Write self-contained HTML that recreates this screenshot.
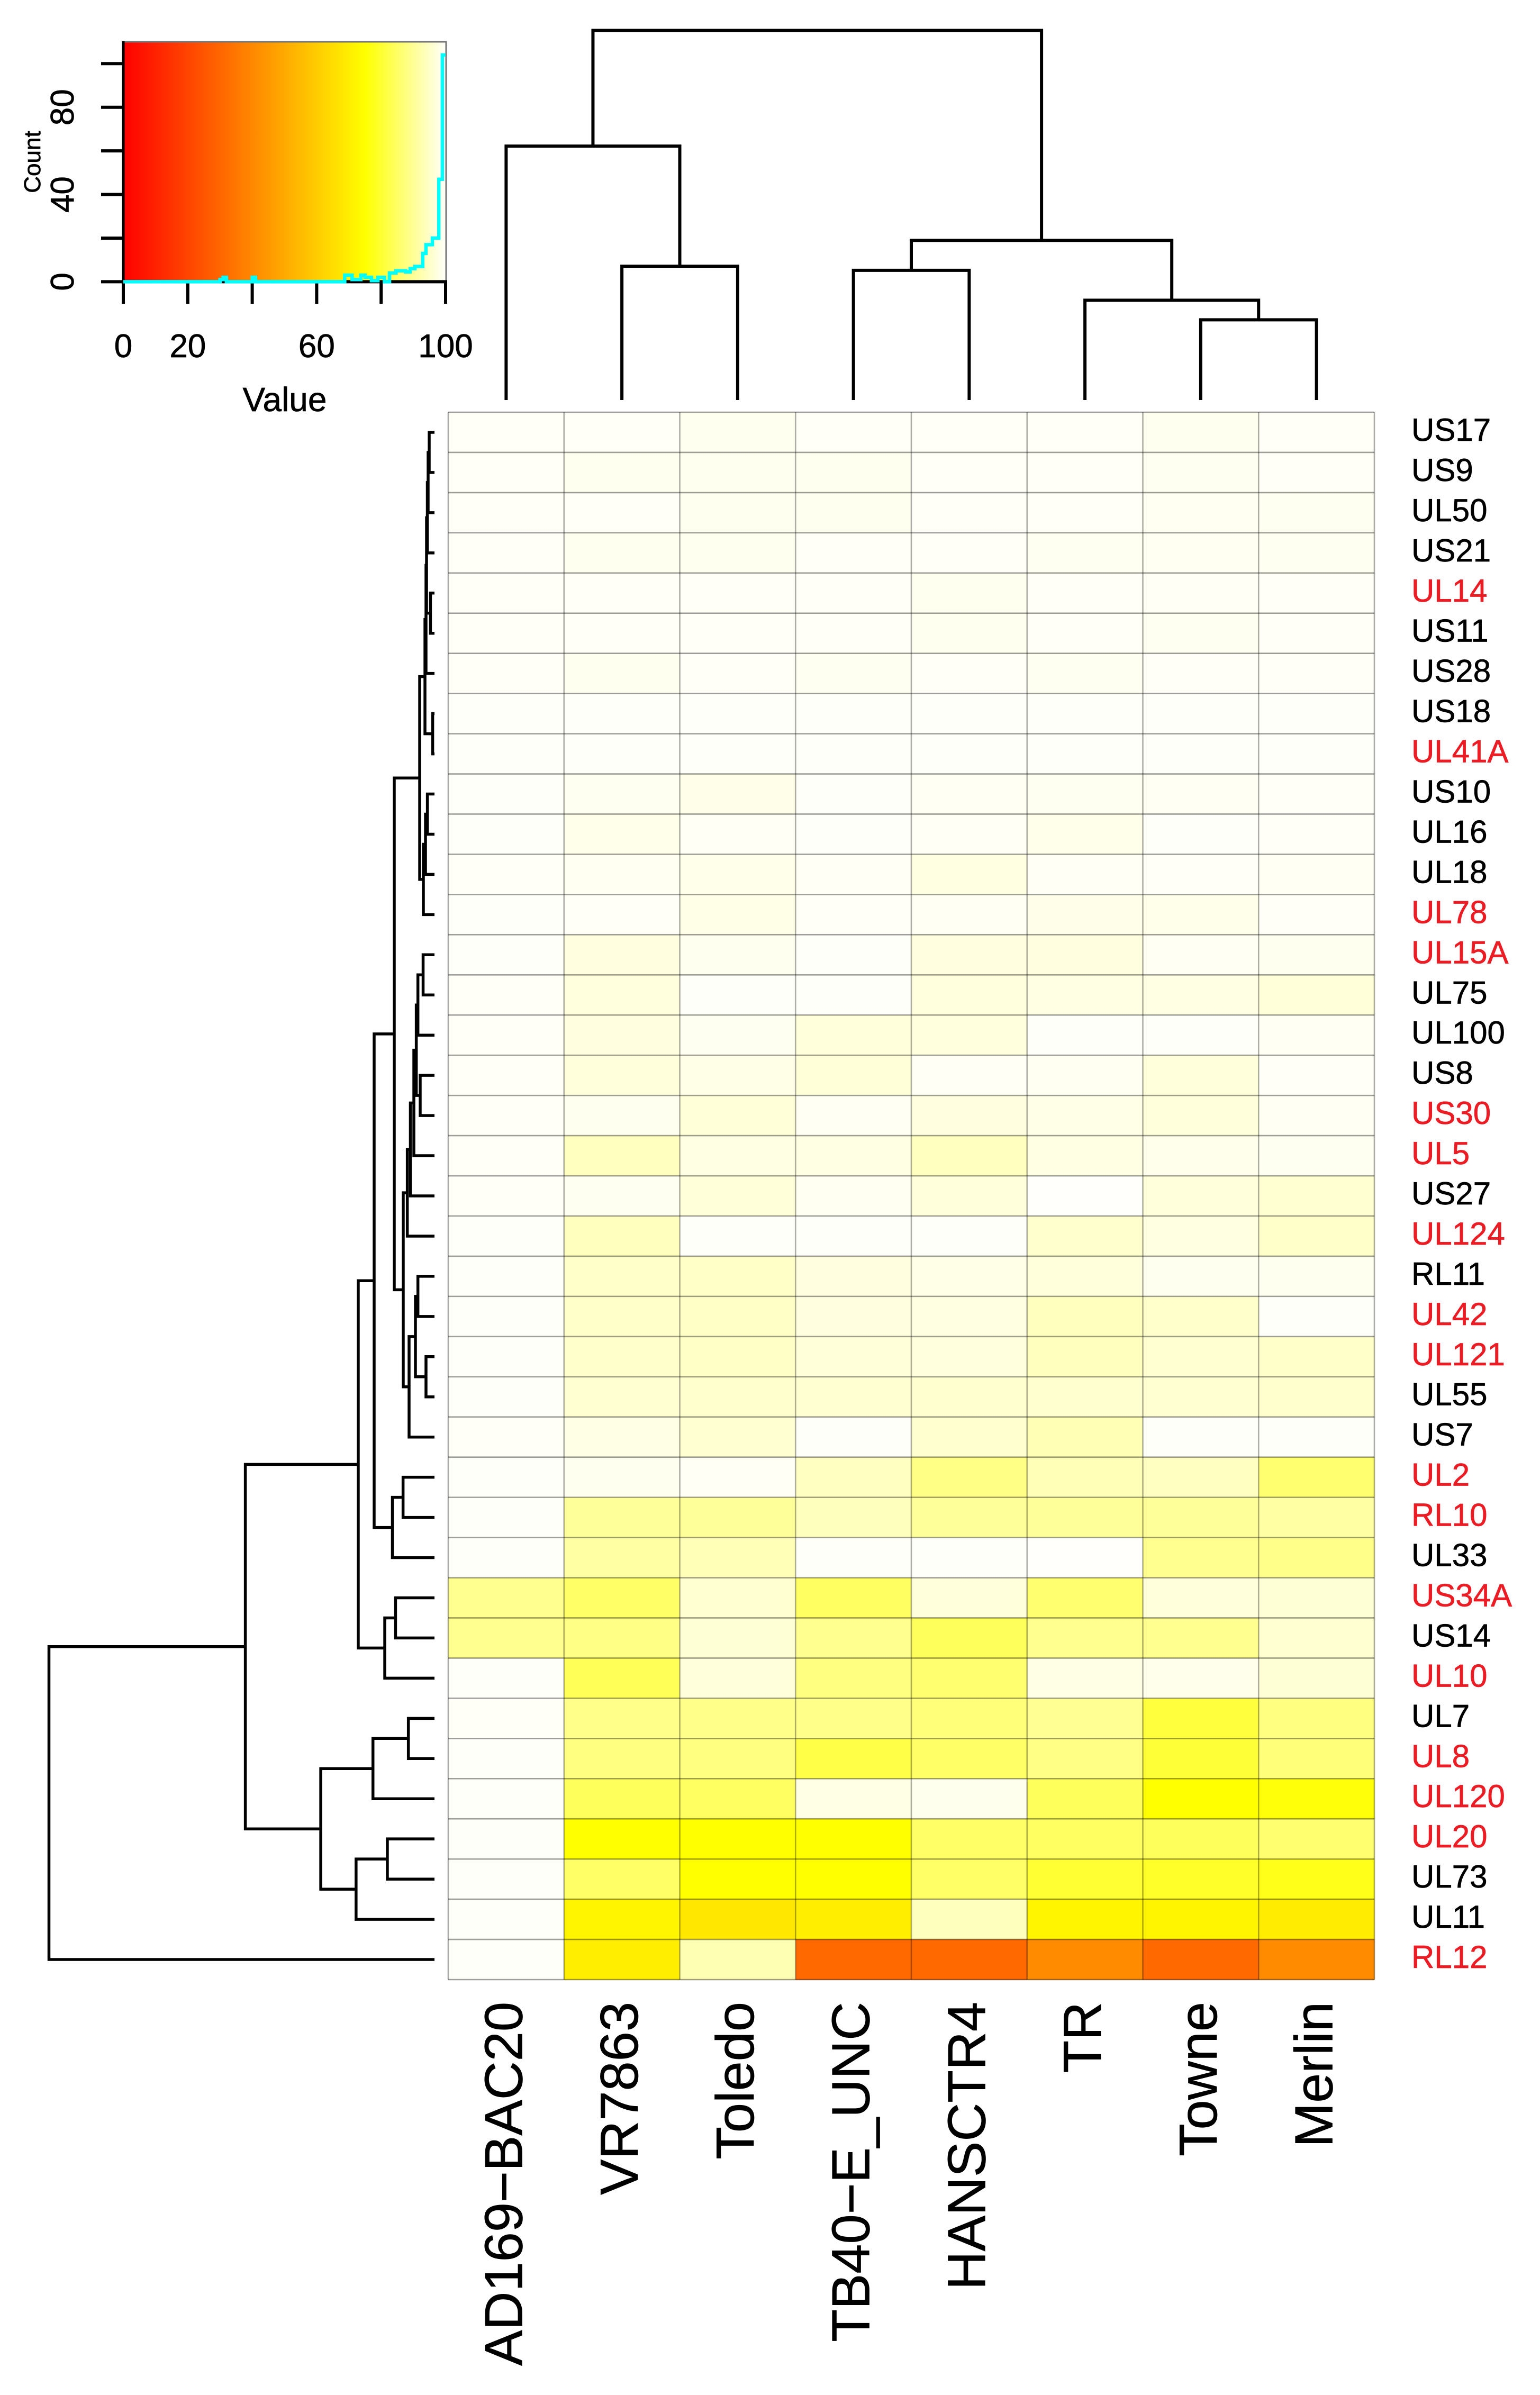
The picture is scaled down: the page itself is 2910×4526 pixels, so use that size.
<!DOCTYPE html>
<html lang="en">
<head>
<meta charset="utf-8">
<title>Heatmap with dendrograms</title>
<style>
html,body{margin:0;padding:0;background:#fff;width:2910px;height:4526px;overflow:hidden}
svg{display:block}
text{font-family:"Liberation Sans",Arial,sans-serif;fill:#000;stroke:#000;stroke-width:0.7px}
</style>
</head>
<body>
<svg id="chart" xmlns="http://www.w3.org/2000/svg" width="2910" height="4526" viewBox="0 0 2910 4526">
<defs>
<linearGradient id="keyGradient" x1="0" x2="1" y1="0" y2="0">
<stop offset="0" stop-color="#ff0000"/>
<stop offset="0.75" stop-color="#ffff00"/>
<stop offset="1" stop-color="#fffffa"/>
</linearGradient>
</defs>
</svg>
<script>
const colLabels = ["AD169−BAC20","VR7863","Toledo","TB40−E_UNC","HANSCTR4","TR","Towne","Merlin"];
const rowLabels = ["US17","US9","UL50","US21","UL14","US11","US28","US18","UL41A","US10","UL16","UL18","UL78","UL15A","UL75","UL100","US8","US30","UL5","US27","UL124","RL11","UL42","UL121","UL55","US7","UL2","RL10","UL33","US34A","US14","UL10","UL7","UL8","UL120","UL20","UL73","UL11","RL12"];
const redRowLabels = ["UL14","UL41A","UL78","UL15A","US30","UL5","UL124","UL42","UL121","UL2","RL10","US34A","UL10","UL8","UL120","UL20","RL12"];
const cellValues = [
[99.2,99.2,98.5,99.2,99.2,99.2,98.5,99.2],
[99.2,98.5,98.5,98.5,99.3,99.3,98.6,99.2],
[99.3,99.2,98.5,98.5,99.3,99.2,98.7,98.6],
[99.3,98.5,98.5,99.2,99.3,98.6,98.7,98.6],
[99.3,99.2,99.3,99.2,98.5,99.2,99.0,99.2],
[99.3,99.2,99.2,99.2,98.5,99.2,98.6,99.2],
[99.3,98.5,99.3,98.6,99.2,98.6,99.2,99.2],
[99.4,99.4,99.4,99.4,99.4,99.4,99.4,99.4],
[99.4,99.4,99.4,99.4,99.4,99.4,99.4,99.4],
[99.4,98.6,97.8,99.4,98.9,98.6,98.9,99.3],
[99.4,97.9,99.0,99.4,99.0,97.9,99.4,99.3],
[99.3,98.7,97.9,99.0,97.2,99.0,99.2,98.9],
[99.4,99.2,97.6,99.3,98.8,97.8,97.9,99.2],
[99.4,97.0,98.5,99.5,97.0,97.0,98.8,98.4],
[99.3,96.8,99.5,99.5,96.8,97.4,97.4,96.3],
[99.3,97.0,98.6,96.6,96.8,99.4,99.4,98.8],
[99.2,96.5,97.6,96.2,99.0,98.7,96.5,99.2],
[99.2,98.4,96.2,98.8,97.0,97.6,96.5,98.8],
[99.3,93.8,97.4,97.4,93.8,97.4,98.0,98.6],
[99.3,98.6,96.4,98.7,96.5,99.6,96.6,95.6],
[99.4,93.6,99.5,99.5,99.5,95.2,97.2,94.8],
[99.4,94.8,94.6,97.0,97.6,96.6,98.4,98.4],
[99.4,94.8,94.4,97.0,97.2,93.6,95.0,99.4],
[99.4,95.0,94.4,96.4,96.8,93.6,95.6,94.8],
[99.4,95.6,95.2,95.6,95.4,95.4,95.6,95.2],
[99.3,97.5,95.6,99.4,95.4,92.8,99.5,99.4],
[99.4,98.5,99.0,94.0,88.0,93.0,94.0,86.0],
[99.4,90.0,90.0,93.5,90.0,90.0,90.0,91.0],
[99.4,91.0,93.0,99.5,99.5,99.6,89.0,88.5],
[89.0,85.0,95.5,84.5,96.5,86.0,96.5,96.0],
[89.0,88.0,96.0,89.0,84.0,89.0,89.0,95.5],
[99.4,83.5,96.5,87.5,86.0,97.5,98.0,96.0],
[99.3,88.5,88.5,88.5,87.0,89.5,81.0,87.5],
[99.4,87.5,87.5,82.0,85.0,88.0,80.5,87.0],
[99.4,84.0,84.5,97.5,98.2,84.0,75.0,76.0],
[99.5,75.0,75.0,75.0,85.0,84.5,84.0,86.0],
[99.5,85.0,75.0,75.0,85.0,80.0,79.0,77.5],
[99.5,72.0,68.0,70.0,93.5,72.0,72.0,69.5],
[99.4,70.0,92.5,31.0,31.0,41.0,31.0,41.0]
];
const colMergeA = [-2,-1,-4,-7,-6,3,2];
const colMergeB = [-3,1,-5,-8,4,5,6];
const colMergeH = [36.2,68.7,35.1,21.7,27,43.2,100];
const rowMergeA = [-1,1,2,-5,3,5,-8,6,-10,9,10,8,-14,13,-17,14,16,17,18,-22,-24,20,22,19,12,-27,26,25,-30,29,28,-33,32,-36,34,33,31,37];
const rowMergeB = [-2,-3,-4,-6,4,-7,-9,7,-11,-12,-13,11,-15,-16,-18,15,-19,-20,-21,-23,-25,21,-26,23,24,-28,-29,27,-31,-32,30,-34,-35,-37,-38,35,36,-39];
const rowMergeH = [1.37,1.65,1.85,1.04,2.06,2.2,0.47,2.47,1.84,2.33,2.88,3.84,2.95,4.3,3.71,4.72,5.35,6.25,7.05,4.3,2.2,4.94,6.59,8.1,10.43,8.15,10.91,15.65,10.1,12.9,19.77,6.77,15.96,12.22,20.34,29.5,49.06,100];
const histEdges = [0,30,31,32,40,41,68.7,71,73.7,75,77,79,81,82.6,84.6,87.6,89,90.5,92.9,93.9,95.9,97.9,99,100];
const histCounts = [0,1,2,0,2,0,3,1,3,2,0.5,2,0,4,5,4.5,6,7,13,17,20,47,104];
const keyXTicks = [0,20,40,60,80,100];
const keyXTickLabels = ["0","20","60","100"];
const keyYTicks = [0,20,40,60,80,100];
const keyYTickLabels = ["0","40","80"];

const svg = document.getElementById('chart');
const NS = 'http://www.w3.org/2000/svg';
function mk(tag, attrs, parent) {
  const n = document.createElementNS(NS, tag);
  for (const k in attrs) n.setAttribute(k, attrs[k]);
  (parent || svg).appendChild(n);
  return n;
}
function group(parent) {
  return mk('g', {}, parent);
}

/* axis functions */
const heatLeft = 847, heatRight = 2597, heatTop = 779, heatBottom = 3741;
const colW = (heatRight - heatLeft) / colLabels.length;
const rowH = (heatBottom - heatTop) / rowLabels.length;
const colX = i => heatLeft + colW * (i + 0.5);
const rowY = i => heatTop + rowH * (i + 0.5);
const colDendroY = h => 756 - h * 6.985;
const rowDendroX = h => 821 - h * 7.285;
const keyX = v => 233 + v * 6.09;
const keyY = c => 532.4 - c * 4.121;
function heatColor(v) {
  if (v < 75) return 'rgb(255,' + Math.round(255 * v / 75) + ',0)';
  return 'rgb(255,255,' + Math.round(255 * (v - 75) / 25) + ')';
}

/* colour key */
const key = group();


const keyBg = mk('rect', {x: keyX(0), y: 79, width: keyX(100) - keyX(0), height: keyY(0) - 79, fill: 'url(#keyGradient)'}, key);


const keyTop = mk('path', {d: 'M' + keyX(0) + ' 79H' + (keyX(100) + 1) + 'V' + keyY(0), fill: 'none', stroke: '#777', 'stroke-width': 3}, key);


const keyYLine = mk('line', {x1: keyX(0), x2: keyX(0), y1: 78, y2: keyY(0) + 3, stroke: '#000', 'stroke-width': 5}, key);


const keyXLine = mk('line', {x1: keyX(0) - 3, x2: keyX(100) + 3, y1: keyY(0), y2: keyY(0), stroke: '#000', 'stroke-width': 6}, key);


keyXTicks.forEach(v => {
  const t = mk('line', {x1: keyX(v), x2: keyX(v), y1: keyY(0), y2: 574, stroke: '#000', 'stroke-width': 6}, key);
  
  
});
keyYTicks.forEach(v => {
  const t = mk('line', {x1: 191, x2: keyX(0), y1: keyY(v), y2: keyY(v), stroke: '#000', 'stroke-width': 6}, key);
  
  
});
keyXTickLabels.forEach(s => {
  const t = mk('text', {x: keyX(+s), y: 675, 'font-size': 62, 'text-anchor': 'middle'}, key);
  t.textContent = s;
  
  
});
keyYTickLabels.forEach(s => {
  const y = keyY(+s);
  const t = mk('text', {x: 139, y: y, 'font-size': 62, 'text-anchor': 'middle', transform: 'rotate(-90 139 ' + y + ')'}, key);
  t.textContent = s;
  
  
});
const keyXTitle = mk('text', {x: 538, y: 777, 'font-size': 64, 'text-anchor': 'middle'}, key);
keyXTitle.textContent = 'Value';


const keyYTitle = mk('text', {x: 76, y: 306, 'font-size': 44, 'text-anchor': 'middle', transform: 'rotate(-90 76 306)'}, key);
keyYTitle.textContent = 'Count';


let histD = 'M' + keyX(histEdges[0]) + ' ' + keyY(histCounts[0]);
histCounts.forEach((c, i) => {
  histD += 'L' + keyX(histEdges[i]) + ' ' + keyY(c) + 'L' + keyX(histEdges[i + 1]) + ' ' + keyY(c);
});
const histLine = mk('path', {d: histD, fill: 'none', stroke: '#00ffff', 'stroke-width': 6.5}, key);



/* heatmap cells */
const cells = group();


cellValues.forEach((row, r) => {
  row.forEach((v, c) => {
    const rect = mk('rect', {
      x: heatLeft + colW * c, y: heatTop + rowH * r,
      width: colW + 0.5, height: rowH + 0.5,
      fill: heatColor(v), 'shape-rendering': 'crispEdges'
    }, cells);
    
    
  });
});

/* grid */
const grid = group();


for (let r = 0; r <= rowLabels.length; r++) {
  const y = heatTop + rowH * r;
  const l = mk('line', {x1: heatLeft, x2: heatRight, y1: y, y2: y, stroke: '#000', 'stroke-opacity': 0.38, 'stroke-width': 2.6}, grid);
  
  
}
for (let c = 0; c <= colLabels.length; c++) {
  const x = heatLeft + colW * c;
  const l = mk('line', {x1: x, x2: x, y1: heatTop, y2: heatBottom, stroke: '#000', 'stroke-opacity': 0.32, 'stroke-width': 2.6}, grid);
  
  
}

/* row labels */
rowLabels.forEach((s, i) => {
  const t = mk('text', {x: 2667, y: rowY(i) + 16, 'font-size': 60}, svg);
  t.textContent = s;
  if (redRowLabels.includes(s)) {
    t.style.fill = '#ec1c24';
    t.style.stroke = '#ec1c24';
  }
  
  
});

/* column labels */
colLabels.forEach((s, i) => {
  const x = colX(i) + 30;
  const t = mk('text', {x: x, y: 3783, 'font-size': 101, 'text-anchor': 'end', transform: 'rotate(-90 ' + x + ' 3783)'}, svg);
  t.textContent = s;
  
  
});

/* column dendrogram */
const colTree = group();


const colNodes = [];
function colNode(id) {
  return id < 0 ? {x: colX(-id - 1), y: colDendroY(0)} : colNodes[id - 1];
}
colMergeH.forEach((h, i) => {
  const a = colNode(colMergeA[i]), b = colNode(colMergeB[i]), y = colDendroY(h);
  colNodes.push({x: (a.x + b.x) / 2, y: y});
  const p = mk('path', {d: 'M' + a.x + ' ' + a.y + 'V' + y + 'H' + b.x + 'V' + b.y, fill: 'none', stroke: '#000', 'stroke-width': 6}, colTree);
  
  
});

/* row dendrogram */
const rowTree = group();


const rowNodes = [];
function rowNode(id) {
  return id < 0 ? {x: rowDendroX(0), y: rowY(-id - 1)} : rowNodes[id - 1];
}
rowMergeH.forEach((h, i) => {
  const a = rowNode(rowMergeA[i]), b = rowNode(rowMergeB[i]), x = rowDendroX(h);
  rowNodes.push({x: x, y: (a.y + b.y) / 2});
  const p = mk('path', {d: 'M' + a.x + ' ' + a.y + 'H' + x + 'V' + b.y + 'H' + b.x, fill: 'none', stroke: '#000', 'stroke-width': 5.5}, rowTree);
  
  
});
</script>
</body>
</html>
